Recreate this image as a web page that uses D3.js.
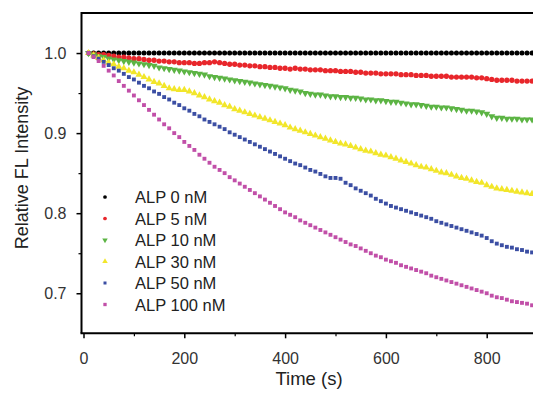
<!DOCTYPE html>
<html><head><meta charset="utf-8">
<script src="https://cdn.jsdelivr.net/npm/d3@7/dist/d3.min.js"></script>
<style>html,body{margin:0;padding:0;background:#fff;overflow:hidden}svg{display:block}</style>
</head><body><svg id="c" width="533" height="393"></svg>
<script>
const times = [10,20,30,40,50,60,70,80,90,100,110,120,130,140,150,160,170,180,190,200,210,220,230,240,250,260,270,280,290,300,310,320,330,340,350,360,370,380,390,400,410,420,430,440,450,460,470,480,490,500,510,520,530,540,550,560,570,580,590,600,610,620,630,640,650,660,670,680,690,700,710,720,730,740,750,760,770,780,790,800,810,820,830,840,850,860,870,880,890];
const alp0 = [1,1,1,1,1,1,1,1,1,1,1,1,1,1,1,1,1,1,1,1,1,1,1,1,1,1,1,1,1,1,1,1,1,1,1,1,1,1,1,1,1,1,1,1,1,1,1,1,1,1,1,1,1,1,1,1,1,1,1,1,1,1,1,1,1,1,1,1,1,1,1,1,1,1,1,1,1,1,1,1,1,1,1,1,1,1,1,1,1];
const alp5 = [1.000,0.999,0.998,0.998,0.997,0.996,0.995,0.995,0.994,0.993,
0.993,0.992,0.991,0.991,0.990,0.990,0.989,0.989,0.988,0.988,
0.988,0.987,0.987,0.988,0.988,0.989,0.988,0.987,0.986,0.986,
0.985,0.985,0.984,0.984,0.983,0.983,0.982,0.982,0.981,0.981,
0.980,0.981,0.980,0.980,0.979,0.979,0.979,0.978,0.978,0.978,
0.977,0.977,0.977,0.976,0.976,0.975,0.975,0.975,0.974,0.974,
0.974,0.974,0.973,0.973,0.973,0.972,0.972,0.972,0.971,0.971,
0.971,0.971,0.970,0.970,0.970,0.970,0.970,0.969,0.969,0.968,
0.967,0.966,0.966,0.966,0.966,0.965,0.965,0.965,0.965];
const alp10 = [1.000,0.998,0.996,0.995,0.993,0.992,0.991,0.990,0.989,0.988,
0.987,0.986,0.985,0.984,0.982,0.981,0.980,0.979,0.978,0.977,
0.976,0.975,0.974,0.973,0.971,0.970,0.969,0.968,0.967,0.966,
0.965,0.964,0.963,0.962,0.961,0.960,0.959,0.958,0.957,0.956,
0.954,0.953,0.952,0.950,0.949,0.948,0.948,0.947,0.946,0.946,
0.945,0.945,0.944,0.944,0.943,0.942,0.942,0.941,0.941,0.940,
0.939,0.939,0.938,0.937,0.936,0.936,0.935,0.934,0.933,0.933,
0.932,0.932,0.931,0.930,0.929,0.928,0.928,0.927,0.926,0.924,
0.921,0.919,0.919,0.918,0.918,0.918,0.917,0.917,0.917];
const alp30 = [1.000,0.997,0.994,0.991,0.988,0.986,0.983,0.981,0.978,0.976,
0.973,0.970,0.967,0.964,0.962,0.959,0.956,0.955,0.954,0.954,
0.952,0.950,0.947,0.945,0.942,0.940,0.938,0.935,0.933,0.930,
0.928,0.926,0.924,0.922,0.920,0.918,0.916,0.914,0.912,0.910,
0.907,0.905,0.903,0.901,0.899,0.897,0.895,0.893,0.891,0.889,
0.887,0.886,0.884,0.882,0.880,0.878,0.877,0.875,0.873,0.872,
0.870,0.868,0.866,0.864,0.862,0.860,0.858,0.857,0.855,0.853,
0.851,0.850,0.848,0.846,0.844,0.843,0.841,0.839,0.838,0.835,
0.833,0.831,0.830,0.829,0.828,0.827,0.826,0.825,0.824];
const alp50 = [1.000,0.996,0.993,0.989,0.985,0.981,0.978,0.974,0.970,0.967,
0.963,0.959,0.956,0.952,0.949,0.945,0.942,0.938,0.935,0.931,
0.928,0.924,0.921,0.917,0.914,0.911,0.908,0.905,0.901,0.898,
0.895,0.892,0.889,0.886,0.883,0.880,0.877,0.874,0.871,0.868,
0.865,0.862,0.860,0.857,0.854,0.852,0.849,0.846,0.844,0.844,
0.843,0.838,0.835,0.831,0.828,0.825,0.822,0.818,0.815,0.812,
0.809,0.807,0.805,0.803,0.801,0.799,0.797,0.795,0.793,0.790,
0.788,0.786,0.784,0.782,0.780,0.778,0.776,0.774,0.772,0.769,
0.765,0.762,0.760,0.758,0.757,0.755,0.754,0.752,0.751];
const alp100 = [1.000,0.995,0.990,0.984,0.978,0.972,0.965,0.959,0.953,0.947,
0.941,0.935,0.929,0.923,0.917,0.911,0.906,0.900,0.895,0.889,
0.884,0.879,0.873,0.868,0.863,0.858,0.854,0.850,0.845,0.841,
0.837,0.833,0.829,0.825,0.821,0.817,0.813,0.809,0.805,0.801,
0.798,0.795,0.791,0.788,0.785,0.782,0.779,0.776,0.773,0.770,
0.767,0.764,0.761,0.759,0.756,0.753,0.750,0.747,0.745,0.742,
0.740,0.738,0.735,0.733,0.731,0.729,0.727,0.725,0.722,0.720,
0.718,0.716,0.714,0.712,0.710,0.708,0.706,0.704,0.702,0.700,
0.697,0.695,0.694,0.692,0.690,0.689,0.688,0.687,0.685];
const seriesNames = ["ALP 0 nM","ALP 5 nM","ALP 10 nM","ALP 30 nM","ALP 50 nM","ALP 100 nM"];
const seriesValues = [alp0, alp5, alp10, alp30, alp50, alp100];
const xTicks = [0,200,400,600,800];
const xMinor = [100,300,500,700];
const yTicks = [0.7,0.8,0.9,1.0];
const yMinor = [0.75,0.85,0.95];

const colors = ["#000000","#e8262b","#5cb444","#f2e62a","#3b4ea3","#c14fa8"];
const shapes = [d3.symbolCircle,d3.symbolCircle,"down",d3.symbolTriangle,d3.symbolSquare,d3.symbolSquare];
const sizes = [20,22,22,22,15,15];
const legendSizes = [11,11,13,13,9,11];

const svg = d3.select("#c");
const pLeft = 81.5, pTop = 13, pBottom = 333.3;
const x = d3.scaleLinear().domain([0,1000]).range([83.5, 83.5+504]);
const y = d3.scaleLinear().domain([0.65,1.05]).range([pBottom, pTop]);
const font = "'Liberation Sans', Arial, sans-serif";

function sym(i, s){
  const t = shapes[i]==="down" ? d3.symbolTriangle : shapes[i];
  return d3.symbol().type(t).size(s)();
}

// data
const plot = svg.append("g");
seriesValues.forEach((vals,i)=>{
  const path = sym(i, sizes[i]);
  const rot = shapes[i]==="down" ? " rotate(180)" : "";
  plot.append("g").selectAll("path").data(vals).join("path")
    .attr("d", path)
    .attr("transform",(d,j)=>`translate(${x(times[j])},${y(d)})${rot}`)
    .attr("fill", colors[i]);
});

// frame
svg.append("path").attr("d",`M${pLeft},${pBottom}V${pTop}H533`).attr("fill","none").attr("stroke","#000").attr("stroke-width",2);
svg.append("path").attr("d",`M${pLeft-1},${pBottom}H533`).attr("fill","none").attr("stroke","#000").attr("stroke-width",2);

// x axis
const xa = svg.append("g").attr("transform",`translate(0,${pBottom})`)
  .call(d3.axisBottom(x).tickValues(xTicks).tickSize(5).tickSizeOuter(0).tickPadding(14).tickFormat(d3.format("d")));
xa.select(".domain").remove();
xa.selectAll(".tick line").attr("stroke","#000").attr("stroke-width",1.5);
xa.selectAll(".tick text").attr("font-family",font).attr("font-size",16).attr("fill","#333");
const xm = svg.append("g").attr("transform",`translate(0,${pBottom})`)
  .call(d3.axisBottom(x).tickValues(xMinor).tickSize(3).tickFormat(""));
xm.select(".domain").remove();
xm.selectAll(".tick line").attr("stroke","#000").attr("stroke-width",1.2);

// y axis
const ya = svg.append("g").attr("transform",`translate(${pLeft},0)`)
  .call(d3.axisLeft(y).tickValues(yTicks).tickSize(5).tickPadding(10).tickFormat(d3.format(".1f")));
ya.select(".domain").remove();
ya.selectAll(".tick line").attr("stroke","#000").attr("stroke-width",1.5);
ya.selectAll(".tick text").attr("font-family",font).attr("font-size",16).attr("fill","#333");
const ym = svg.append("g").attr("transform",`translate(${pLeft},0)`)
  .call(d3.axisLeft(y).tickValues(yMinor).tickSize(3).tickFormat(""));
ym.select(".domain").remove();
ym.selectAll(".tick line").attr("stroke","#000").attr("stroke-width",1.2);

// titles
svg.append("text").attr("x",309).attr("y",385).attr("text-anchor","middle")
  .attr("font-family",font).attr("font-size",18.5).attr("fill","#222").text("Time (s)");
svg.append("text").attr("transform","translate(28,168) rotate(-90)").attr("text-anchor","middle")
  .attr("font-family",font).attr("font-size",18).attr("fill","#222").text("Relative FL Intensity");

// legend
const lg = svg.append("g");
seriesNames.forEach((n,i)=>{
  const yy = 197 + i*21.5;
  const rot = shapes[i]==="down" ? " rotate(180)" : "";
  lg.append("path").attr("d",sym(i, legendSizes[i])).attr("transform",`translate(105,${yy})${rot}`).attr("fill",colors[i]);
  lg.append("text").attr("x",135).attr("y",yy+6).attr("font-family",font).attr("font-size",16.5)
    .attr("fill","#222").text(n);
});
</script></body></html>
